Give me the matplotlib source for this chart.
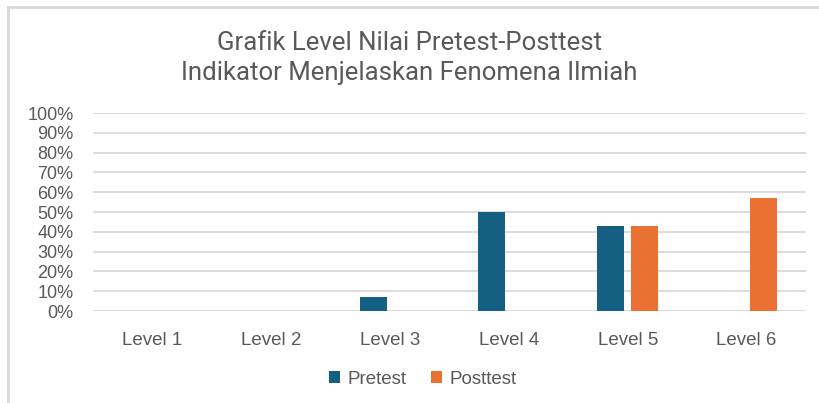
import numpy as np
import matplotlib
matplotlib.use('Agg')
import matplotlib.pyplot as plt
from matplotlib.patches import Rectangle

levels = ['Level 1', 'Level 2', 'Level 3', 'Level 4', 'Level 5', 'Level 6']
pretest = [0, 0, 1/14, 7/14, 6/14, 0]    # share of students per level
posttest = [0, 0, 0, 0, 6/14, 8/14]
yticks = np.arange(0, 1.01, 0.1)

W, H = 819, 403
fig = plt.figure(figsize=(W/100, H/100), dpi=100)
txt = '#595959'

# outer chart frame (only top and left edges visible)
fig.patches.append(Rectangle((8/W, -0.1), 1.1, 1.1 - 7/H, transform=fig.transFigure,
                             fill=False, edgecolor='#D9D9D9', lw=2))

ax = fig.add_axes([93/W, (H-311)/H, (806-93)/W, (311-113)/H])
x = np.arange(len(levels))
w = 0.227
off = 0.143
ax.bar(x - off, pretest, w, color='#156082', label='Pretest', zorder=3)
ax.bar(x + off, posttest, w, color='#E97132', label='Posttest', zorder=3)

ax.set_xlim(-0.5, len(levels) - 0.5)
ax.set_ylim(0, 1)
ax.set_yticks(yticks)
ax.set_yticklabels(['%d%%' % round(v*100) for v in yticks],
                   fontsize=13, color=txt, family='Liberation Sans')
ax.set_xticks(x)
ax.set_xticklabels(levels, fontsize=13.5, color=txt, family='Liberation Sans')
ax.tick_params(axis='y', length=0, pad=14)
ax.tick_params(axis='x', length=0, pad=15)
ax.grid(axis='y', color='#D9D9D9', lw=1.3, zorder=0)
for s in ax.spines.values():
    s.set_visible(False)

fig.text(0.5, 1 - 43/H, 'Grafik Level Nilai Pretest-Posttest', ha='center', va='center',
         fontsize=18.5, color=txt, family='Roboto')
fig.text(0.5, 1 - 73/H, 'Indikator Menjelaskan Fenomena Ilmiah', ha='center', va='center',
         fontsize=18.5, color=txt, family='Roboto')

fig.legend(loc='center', bbox_to_anchor=(423/W, 1 - 379/H), ncol=2, frameon=False,
           handlelength=0.6, handleheight=0.6, handletextpad=0.4, columnspacing=1.3,
           prop={'family': 'Liberation Sans', 'size': 13.5}, labelcolor=txt)

fig.savefig('out.png', dpi=100, facecolor='white')
